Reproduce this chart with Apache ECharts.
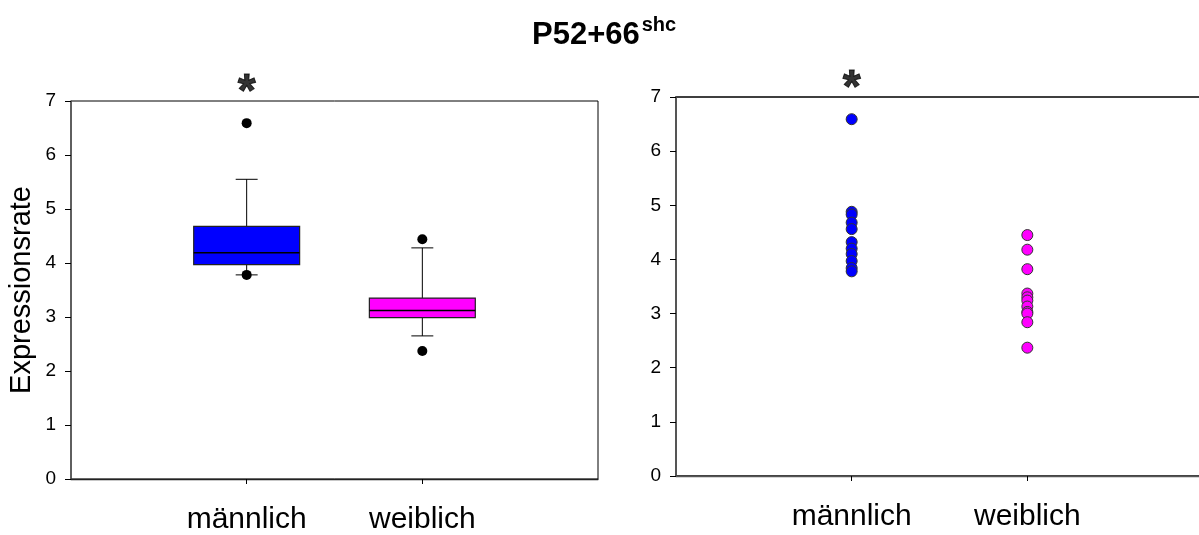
<!DOCTYPE html>
<html>
<head>
<meta charset="utf-8">
<script src="https://cdn.jsdelivr.net/npm/echarts@6/dist/echarts.min.js"></script>
<style>
  html, body { margin: 0; padding: 0; background: #fff; overflow: hidden; }
  #chart { width: 1212px; height: 535px; }
</style>
</head>
<body>
<div id="chart"></div>
<script>
// ---- data ----
const categories = ['männlich', 'weiblich'];
const yTicks = [0, 1, 2, 3, 4, 5, 6, 7];
// box statistics: [lower whisker, Q1, median, Q3, upper whisker]
const maleBox = [3.78, 3.97, 4.19, 4.68, 5.55];
const femaleBox = [2.65, 2.99, 3.12, 3.35, 4.28];
const maleOutliers = [6.59, 3.78];
const femaleOutliers = [4.44, 2.37];
// individual values (right panel)
const maleValues = [6.59, 4.88, 4.83, 4.68, 4.56, 4.32, 4.20, 4.10, 3.97, 3.84, 3.78];
const femaleValues = [4.45, 4.18, 3.82, 3.37, 3.30, 3.24, 3.13, 3.03, 3.00, 2.84, 2.37];
const significant = ['männlich'];

// ---- styles ----
const FONT = 'Liberation Sans, Arial, sans-serif';
const BLUE = '#0000FF';
const MAGENTA = '#FF00FF';
const BOX_WIDTH = 0.603;   // in category units
const CAP_WIDTH = 0.125;

const axisCats = [''].concat(categories, ['']);
const catIndex = c => axisCats.indexOf(c);

function xAxisCfg(gridIndex, lineColor) {
  return {
    type: 'category', gridIndex, data: axisCats, boundaryGap: false,
    axisLine: { lineStyle: { color: lineColor, width: 1.3 } },
    axisTick: { length: 5, interval: (i) => i === 1 || i === 2, lineStyle: { color: '#000' } },
    axisLabel: { interval: (i) => i === 1 || i === 2, margin: 26, fontSize: 30, color: '#000', fontFamily: FONT },
    splitLine: { show: false }
  };
}
function yAxisCfg(gridIndex, name) {
  return {
    type: 'value', gridIndex, min: yTicks[0], max: yTicks[yTicks.length - 1], interval: 1,
    name: name, nameLocation: 'middle', nameGap: 35,
    nameTextStyle: { fontSize: 29, color: '#000', fontFamily: FONT },
    axisLine: { show: true, lineStyle: { color: '#555', width: 1.5 } },
    axisTick: { show: true, length: 6, lineStyle: { color: '#000' } },
    axisLabel: { margin: 15, fontSize: 19, color: '#000', fontFamily: FONT },
    splitLine: { show: false }
  };
}

function renderBox(params, api) {
  const x = api.value(0);
  const unit = api.coord([x + 1, 0])[0] - api.coord([x, 0])[0];
  const cx = api.coord([x, 0])[0];
  const lo = api.coord([x, api.value(1)])[1];
  const q1 = api.coord([x, api.value(2)])[1];
  const med = api.coord([x, api.value(3)])[1];
  const q3 = api.coord([x, api.value(4)])[1];
  const hi = api.coord([x, api.value(5)])[1];
  const half = unit * BOX_WIDTH / 2;
  const cap = unit * CAP_WIDTH / 2;
  const color = api.visual('color');
  const line = { stroke: '#000', lineWidth: 1 };
  return {
    type: 'group',
    children: [
      { type: 'line', shape: { x1: cx, y1: hi, x2: cx, y2: q3 }, style: line },
      { type: 'line', shape: { x1: cx - cap, y1: hi, x2: cx + cap, y2: hi }, style: line },
      { type: 'line', shape: { x1: cx, y1: lo, x2: cx, y2: q1 }, style: line },
      { type: 'line', shape: { x1: cx - cap, y1: lo, x2: cx + cap, y2: lo }, style: line },
      { type: 'rect', shape: { x: cx - half, y: q3, width: 2 * half, height: q1 - q3 },
        style: { fill: color, stroke: '#222', lineWidth: 1.2 } },
      { type: 'line', shape: { x1: cx - half, y1: med, x2: cx + half, y2: med },
        style: { stroke: '#000', lineWidth: 1.5 } }
    ]
  };
}

const boxData = [
  { value: [catIndex('männlich')].concat(maleBox), itemStyle: { color: BLUE } },
  { value: [catIndex('weiblich')].concat(femaleBox), itemStyle: { color: MAGENTA } }
];
const outlierData = maleOutliers.map(v => [catIndex('männlich'), v])
  .concat(femaleOutliers.map(v => [catIndex('weiblich'), v]));

function sigSeries(xAxisIndex, yAxisIndex) {
  return {
    type: 'scatter', xAxisIndex, yAxisIndex, silent: true, symbolSize: 0,
    data: significant.map(c => [catIndex(c), yTicks[yTicks.length - 1]]),
    label: { show: true, formatter: '*', position: 'top', distance: -15,
      fontSize: 46, fontWeight: 'bold', color: '#000', fontFamily: FONT,
      textBorderColor: '#000', textBorderWidth: 1 },
    z: 10
  };
}

const chart = echarts.init(document.getElementById('chart'), null, { renderer: 'canvas' });
chart.setOption({
  animation: false,
  backgroundColor: '#fff',
  title: {
    text: '{a|P52+66}{b|shc}', left: 527, top: 10,
    textStyle: {
      rich: {
        a: { fontSize: 31, fontWeight: 'bold', fontFamily: FONT, color: '#000', lineHeight: 36, verticalAlign: 'bottom' },
        b: { fontSize: 20, fontWeight: 'bold', fontFamily: FONT, color: '#000', lineHeight: 20, verticalAlign: 'top', padding: [0, 0, 0, 2] }
      }
    }
  },
  grid: [
    { left: 71, top: 101, width: 527, height: 379, show: true, borderColor: '#000', borderWidth: 1, containLabel: false },
    { left: 676, top: 97, width: 527, height: 379, show: true, borderColor: '#000', borderWidth: 1.3, containLabel: false }
  ],
  xAxis: [xAxisCfg(0, '#222'), xAxisCfg(1, '#555')],
  yAxis: [yAxisCfg(0, 'Expressionsrate'), yAxisCfg(1, '')],
  series: [
    {
      type: 'custom', xAxisIndex: 0, yAxisIndex: 0, renderItem: renderBox,
      encode: { x: 0, y: [1, 2, 3, 4, 5] }, data: boxData, z: 2
    },
    {
      type: 'scatter', xAxisIndex: 0, yAxisIndex: 0, symbolSize: 10,
      itemStyle: { color: '#000', opacity: 1 }, data: outlierData, z: 3
    },
    {
      type: 'scatter', xAxisIndex: 1, yAxisIndex: 1, symbolSize: 11,
      itemStyle: { color: BLUE, borderColor: '#333', borderWidth: 1, opacity: 1 },
      data: maleValues.map(v => [catIndex('männlich'), v])
    },
    {
      type: 'scatter', xAxisIndex: 1, yAxisIndex: 1, symbolSize: 11,
      itemStyle: { color: MAGENTA, borderColor: '#333', borderWidth: 1, opacity: 1 },
      data: femaleValues.map(v => [catIndex('weiblich'), v])
    },
    sigSeries(0, 0),
    sigSeries(1, 1)
  ]
});
</script>
</body>
</html>
